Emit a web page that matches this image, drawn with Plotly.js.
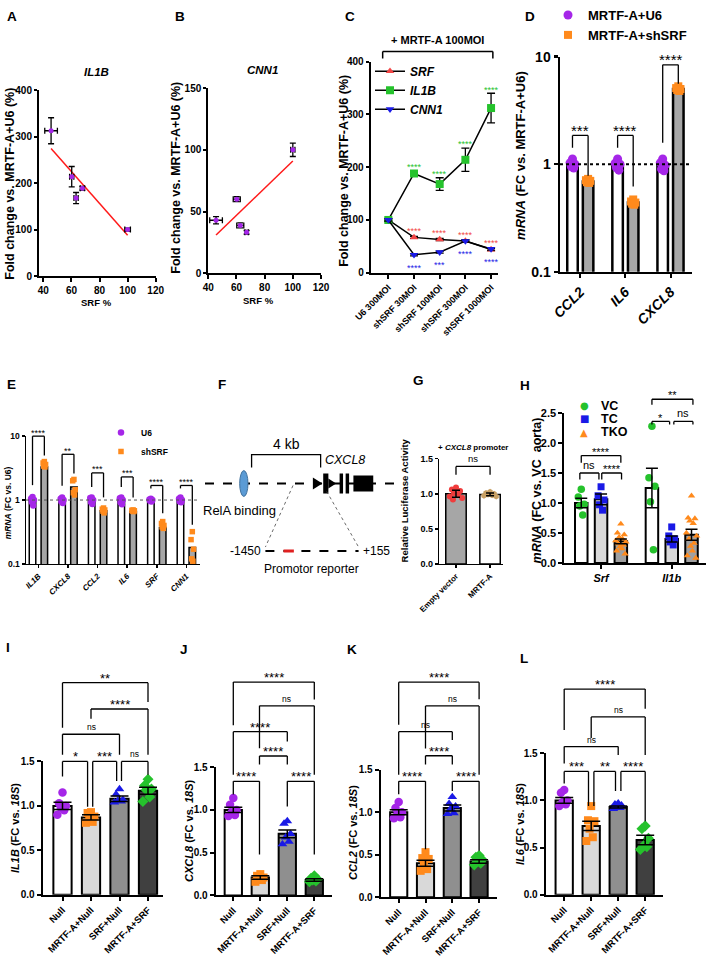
<!DOCTYPE html>
<html>
<head>
<meta charset="utf-8">
<script src="https://cdn.plot.ly/plotly-3.0.1.min.js"></script>
<style>html,body{margin:0;padding:0;background:#fff}</style>
</head>
<body>
<div id="fig" style="width:708px;height:961px"></div>
<script>
const FONT = 'Liberation Sans, Arial, Helvetica, sans-serif';
const W = 708, H = 961;
const PURPLE = '#a526e8', ORANGE = '#ff8a1c', BLUE = '#1a1ae6', GREEN = '#25c22c', RED = '#f24646';

// ---- A: IL1B vs SRF %
const aSrf = [45.5, 60.2, 63.3, 67.8, 100];
const aSrfErr = [4.5, 1.5, 1.5, 1.5, 2];
const aIl1b = [313, 214, 168, 189, 100];
const aIl1bErr = [28, 22, 12, 4, 3];
const aFitX = [45.5, 100];
const aFitY = [275, 88];

// ---- B: CNN1 vs SRF %
const bSrf = [45.5, 60.2, 62.7, 67.2, 100];
const bSrfErr = [4.5, 2.5, 2.5, 1.2, 1.5];
const bCnn1 = [43, 60, 38.8, 33.2, 100];
const bCnn1Err = [3, 2, 2, 1.5, 5.4];
const bFitX = [45.5, 100];
const bFitY = [31, 91];

// ---- C: dose series
const cLabels = ['U6 300MOI', 'shSRF 30MOI', 'shSRF 100MOI', 'shSRF 300MOI', 'shSRF 1000MOI'];
const cSrf = [100, 67, 63, 60, 44];
const cSrfErr = [2, 2, 2, 2, 2];
const cIl1b = [100, 188, 168, 214, 312];
const cIl1bErr = [3, 5, 12, 22, 28];
const cCnn1 = [100, 34, 39, 60, 45];
const cCnn1Err = [2, 2, 2, 2, 2];
const cSigSrf = ['', '****', '****', '****', '****'];
const cSigIl1b = ['', '****', '****', '****', '****'];
const cSigCnn1 = ['', '****', '***', '****', '****'];

// ---- D
const dGenes = ['CCL2', 'IL6', 'CXCL8'];
const dU6 = [0.98, 0.98, 0.97];
const dSh = [0.69, 0.44, 5.0];
const dU6Pts = [[1.12, 1.03, 1.0, 0.95, 0.92], [1.12, 1.02, 1.0, 0.93, 0.88], [1.12, 1.03, 0.98, 0.9, 0.87]];
const dShPts = [[0.73, 0.71, 0.7, 0.68, 0.67], [0.47, 0.45, 0.44, 0.43, 0.42], [5.3, 5.1, 5.0, 4.9, 4.8]];
const dSig = ['***', '****', '****'];

// ---- E
const eGenes = ['IL1B', 'CXCL8', 'CCL2', 'IL6', 'SRF', 'CNN1'];
const eU6 = [1.0, 1.0, 1.0, 1.0, 1.0, 1.0];
const eSh = [3.3, 1.6, 0.68, 0.66, 0.37, 0.18];
const eU6Pts = [[1.12, 1.05, 1.0, 0.93, 0.82], [1.1, 1.05, 1.0, 0.95, 0.9], [1.1, 1.08, 1.0, 0.93, 0.87],
                [1.1, 1.07, 1.0, 0.92, 0.86], [1.05, 1.02, 1.0, 0.97, 0.95], [1.1, 1.05, 1.0, 0.95, 0.92]];
const eShPts = [[4.0, 3.8, 3.6, 3.4, 3.3], [2.1, 2.0, 1.45, 1.3, 1.2], [0.75, 0.72, 0.7, 0.67, 0.63],
                [0.7, 0.69, 0.68, 0.67, 0.66], [0.46, 0.43, 0.4, 0.38, 0.36], [0.32, 0.24, 0.17, 0.12, 0.11]];
const eSig = ['****', '**', '***', '***', '****', '****'];

// ---- F (schematic, kb from TSS)
const fRelA = -4.3;
const fSpan = [-3.85, 0.15];
const fExons = [[0.3, 0.6, 10], [1.25, 1.45, 10], [1.6, 1.8, 10], [2.05, 3.2, 8]];

// ---- G
const gGroups = ['Empty vector', 'MRTF-A'];
const gMean = [1.0, 0.99];
const gSem = [0.05, 0.02];
const gEmptyPts = [1.09, 1.06, 1.04, 1.01, 0.99, 0.96, 0.94, 0.92];
const gMrtfPts = [1.03, 1.01, 1.0, 0.99, 0.98, 0.97, 0.96];

// ---- H
const hGenes = ['Srf', 'Il1b'];
const hVC = [1.0, 1.25], hVCErr = [0.08, 0.33];
const hTC = [1.06, 0.4], hTCErr = [0.09, 0.05];
const hTKO = [0.36, 0.47], hTKOErr = [0.04, 0.09];
const hVCPts = [[1.23, 1.1, 0.98, 0.95, 0.8], [2.28, 1.42, 1.28, 1.02, 0.22]];
const hTCPts = [[1.27, 1.12, 1.05, 0.97, 0.88], [0.6, 0.45, 0.4, 0.35, 0.3]];
const hTKOPts = [[0.65, 0.5, 0.47, 0.43, 0.4, 0.37, 0.35, 0.32, 0.3, 0.27, 0.24, 0.2, 0.15],
                 [1.12, 0.75, 0.74, 0.7, 0.66, 0.5, 0.45, 0.4, 0.33, 0.28, 0.2, 0.12, 0.08]];

// ---- I-L
const grpIL = ['Null', 'MRTF-A+Null', 'SRF+Null', 'MRTF-A+SRF'];
const iMean = [1.0, 0.87, 1.08, 1.17], iSem = [0.04, 0.03, 0.03, 0.04];
const iPts = [[1.15, 1.03, 1.0, 0.98, 0.95, 0.9], [0.93, 0.92, 0.88, 0.86, 0.82, 0.81],
              [1.19, 1.13, 1.07, 1.06, 1.05, 1.04], [1.3, 1.23, 1.19, 1.18, 1.1, 1.05]];
const jMean = [1.0, 0.21, 0.72, 0.18], jSem = [0.03, 0.02, 0.045, 0.015];
const jPts = [[1.14, 1.06, 1.0, 0.97, 0.94, 0.93], [0.25, 0.23, 0.21, 0.2, 0.18, 0.16],
              [0.87, 0.84, 0.72, 0.68, 0.63, 0.6], [0.23, 0.2, 0.19, 0.18, 0.17, 0.16]];
const kMean = [1.0, 0.4, 1.05, 0.42], kSem = [0.03, 0.035, 0.035, 0.02];
const kPts = [[1.12, 1.05, 1.0, 0.97, 0.94, 0.93], [0.53, 0.46, 0.45, 0.38, 0.33, 0.31],
              [1.18, 1.1, 1.07, 1.04, 0.99, 0.98], [0.49, 0.47, 0.44, 0.42, 0.4, 0.38]];
const lMean = [1.0, 0.73, 0.93, 0.58], lSem = [0.03, 0.05, 0.01, 0.05];
const lPts = [[1.11, 1.08, 1.0, 0.98, 0.96, 0.94], [0.94, 0.79, 0.78, 0.7, 0.61, 0.57],
              [0.97, 0.96, 0.95, 0.94, 0.92, 0.91], [0.73, 0.7, 0.6, 0.52, 0.51, 0.48]];

// ---------------------------------------------------------------
const traces = [], shapes = [], notes = [];
const Y = {};
const F = (size, style) => ({family: FONT, size, color: '#000', weight: 700, style: style || 'normal'});
const AX = {
  showline: true, linecolor: '#000', linewidth: 2, ticks: 'outside', ticklen: 4, tickwidth: 2,
  tickcolor: '#000', showgrid: false, zeroline: false, fixedrange: true, tickfont: F(10)
};
const layout = {
  width: W, height: H, margin: {l: 0, r: 0, t: 0, b: 0}, paper_bgcolor: '#fff',
  plot_bgcolor: 'rgba(0,0,0,0)', barmode: 'overlay', showlegend: true,
  font: {family: FONT, color: '#000'}
};
const key = id => id[0] + 'axis' + id.slice(1);
function addX(id, y, l, r, range, extra) {
  layout[key(id)] = Object.assign({}, AX, {anchor: y, domain: [l / W, r / W], range}, extra);
}
function addY(id, x, t, b, range, extra) {
  layout[key(id)] = Object.assign({}, AX, {anchor: x, domain: [1 - b / H, 1 - t / H], range}, extra);
  Y[id] = {r: range, log: !!(extra && extra.type === 'log')};
}
function yd(ya, v) {
  const a = Y[ya], t = a.log ? Math.log10(v) : v;
  return (t - a.r[0]) / (a.r[1] - a.r[0]);
}
function seg(xref, yref, x0, y0, x1, y1, w, extra) {
  shapes.push(Object.assign({type: 'line', xref, yref, x0, y0, x1, y1, line: {color: '#000', width: w || 1.3}}, extra));
}
function bracket(xa, ya, b, size, nsSize) {
  const [x1, x2, top, yl, yr, label] = b;
  const yref = ya + ' domain', t = yd(ya, top);
  seg(xa, yref, x1, t, x2, t);
  seg(xa, yref, x1, t, x1, yd(ya, yl));
  seg(xa, yref, x2, t, x2, yd(ya, yr));
  const ns = label === 'ns';
  notes.push({xref: xa, yref, x: (x1 + x2) / 2, y: t, yanchor: 'bottom', showarrow: false,
    yshift: ns ? 0 : -0.38 * size, text: label,
    font: {family: FONT, size: ns ? nsSize : size, color: '#000'}});
}
function txt(x, y, text, size, extra) {
  notes.push(Object.assign({xref: 'paper', yref: 'paper', x: x / W, y: 1 - y / H, text, showarrow: false,
    xanchor: 'center', yanchor: 'middle', font: F(size)}, extra));
}
function bars(xa, ya, x, y, color, width, lw) {
  traces.push({type: 'bar', xaxis: xa, yaxis: ya, x, y, width, offset: -width / 2,
    marker: {color, line: {color: '#000', width: lw || 2}}, showlegend: false, hoverinfo: 'skip'});
}
function errs(xa, ya, x, y, e, cap) {
  traces.push({type: 'scatter', mode: 'markers', xaxis: xa, yaxis: ya, x, y, marker: {size: 1, opacity: 0},
    error_y: {type: 'data', array: e, color: '#000', thickness: 1.5, width: cap || 4},
    showlegend: false, hoverinfo: 'skip'});
}
const JIT = [0, -0.6, 0.6, -0.3, 0.3, -0.9, 0.9, -0.45, 0.45, -0.15, 0.15, -0.75, 0.75];
function dots(xa, ya, centers, groups, color, symbol, size, w, legend, name) {
  const x = [], y = [];
  groups.forEach((vals, g) => vals.forEach((v, i) => { x.push(centers[g] + w * JIT[i % JIT.length]); y.push(v); }));
  traces.push({type: 'scatter', mode: 'markers', xaxis: xa, yaxis: ya, x, y, cliponaxis: false,
    marker: {color, symbol, size, line: {width: 0}}, showlegend: !!legend, legend: legend || 'legend',
    name: name || '', hoverinfo: 'skip'});
}
const ytitle = (x, y, text, size) => txt(x, y, text, size, {textangle: -90});

// ---------------- A
addX('x', 'y', 39, 155.7, [36.9, 120], {tickvals: [40, 60, 80, 100, 120]});
addY('y', 'x', 84, 271, [0, 400], {tickvals: [0, 100, 200, 300, 400], ticklen: 3});
traces.push({type: 'scatter', mode: 'lines', xaxis: 'x', yaxis: 'y', x: aFitX, y: aFitY,
  line: {color: '#ff1a1a', width: 1.5}, showlegend: false, hoverinfo: 'skip'});
traces.push({type: 'scatter', mode: 'markers', xaxis: 'x', yaxis: 'y', x: aSrf, y: aIl1b,
  marker: {color: PURPLE, size: 5}, showlegend: false, hoverinfo: 'skip',
  error_x: {type: 'data', array: aSrfErr, color: '#000', thickness: 1.3, width: 3},
  error_y: {type: 'data', array: aIl1bErr, color: '#000', thickness: 1.3, width: 3}});
txt(97, 65, '<i>IL1B</i>', 11.5);
txt(97, 298, 'SRF %', 9.5);
ytitle(10, 178, 'Fold change vs. MRTF-A+U6 (%)', 12.5);

// ---------------- B
addX('x2', 'y2', 208.3, 321, [40, 120], {tickvals: [40, 60, 80, 100, 120]});
addY('y2', 'x2', 81.7, 268.3, [0, 150], {tickvals: [0, 50, 100, 150], ticklen: 3});
traces.push({type: 'scatter', mode: 'lines', xaxis: 'x2', yaxis: 'y2', x: bFitX, y: bFitY,
  line: {color: '#ff1a1a', width: 1.5}, showlegend: false, hoverinfo: 'skip'});
traces.push({type: 'scatter', mode: 'markers', xaxis: 'x2', yaxis: 'y2', x: bSrf, y: bCnn1,
  marker: {color: PURPLE, size: 5}, showlegend: false, hoverinfo: 'skip',
  error_x: {type: 'data', array: bSrfErr, color: '#000', thickness: 1.3, width: 3},
  error_y: {type: 'data', array: bCnn1Err, color: '#000', thickness: 1.3, width: 3}});
txt(262, 63, '<i>CNN1</i>', 11.5);
txt(258, 296, 'SRF %', 9.5);
ytitle(176, 172, 'Fold change vs. MRTF-A+U6 (%)', 12.5);

// ---------------- C
const cx = cLabels.map((_, i) => i);
addX('x3', 'y3', 370.7, 498, [-0.686, 4.27], {tickvals: cx, ticktext: cLabels, tickangle: -45, tickfont: F(9)});
addY('y3', 'x3', 55, 267.7, [0, 400], {tickvals: [0, 100, 200, 300, 400], ticklen: 3});
[[cSrf, cSrfErr, RED, 'triangle-up', '<i>SRF</i>', 7.5],
 [cIl1b, cIl1bErr, GREEN, 'square', '<i>IL1B</i>', 8],
 [cCnn1, cCnn1Err, BLUE, 'triangle-down', '<i>CNN1</i>', 7.5]].forEach(([y, e, col, sym, name, sz]) => {
  traces.push({type: 'scatter', mode: 'lines+markers', xaxis: 'x3', yaxis: 'y3', x: cx, y, name,
    line: {color: '#000', width: 1.5}, marker: {color: col, symbol: sym, size: sz},
    error_y: {type: 'data', array: e, color: '#000', thickness: 1.3, width: 4},
    legend: 'legend', showlegend: true, hoverinfo: 'skip', cliponaxis: false});
});
cx.forEach(i => {
  const t = {xref: 'x3', yref: 'y3', x: i, showarrow: false, font: {family: FONT, size: 9, color: RED}};
  if (cSigSrf[i]) notes.push(Object.assign({}, t, {y: cSrf[i] + 12, text: cSigSrf[i]}));
  if (cSigIl1b[i]) notes.push(Object.assign({}, t, {y: cIl1b[i] + cIl1bErr[i] + 7, text: cSigIl1b[i], font: {family: FONT, size: 9, color: GREEN}}));
  if (cSigCnn1[i]) notes.push(Object.assign({}, t, {y: cCnn1[i] - 25, text: cSigCnn1[i], font: {family: FONT, size: 9, color: BLUE}}));
});
seg('x3', 'y3 domain', -0.22, yd('y3', 419), 4.07, yd('y3', 419), 1.5);
seg('x3', 'y3 domain', -0.22, yd('y3', 419), -0.22, yd('y3', 406), 1.5);
seg('x3', 'y3 domain', 4.07, yd('y3', 419), 4.07, yd('y3', 406), 1.5);
notes.push({xref: 'x3', yref: 'y3 domain', x: 1.92, y: yd('y3', 426), yanchor: 'bottom', text: '+ MRTF-A 100MOI',
  showarrow: false, font: F(11)});
ytitle(344, 165, 'Fold change vs. MRTF-A+U6 (%)', 12.5);
layout.legend = {x: 370 / W, y: 1 - 50 / H, xanchor: 'left', yanchor: 'top', bgcolor: 'rgba(0,0,0,0)',
  font: F(12), itemwidth: 30, tracegroupgap: 0};

// ---------------- D
const dx = dGenes.map((_, i) => i);
const dOff = 0.173, dW = 0.233;
addX('x4', 'y4', 560, 691.7, [-0.45, 2.47], {tickvals: dx, ticktext: dGenes, tickangle: -45, tickfont: F(14, 'italic'), linewidth: 2.5});
addY('y4', 'x4', 50, 266.7, [-1, 1], {type: 'log', tickvals: [0.1, 1, 10], ticktext: ['0.1', '1', '10'], tickfont: F(14), linewidth: 2.5, tickwidth: 2.5});
bars('x4', 'y4', dx.map(i => i - dOff), dU6, '#fff', dW, 2.5);
bars('x4', 'y4', dx.map(i => i + dOff), dSh, '#a6a6a6', dW, 2.5);
dots('x4', 'y4', dx.map(i => i - dOff), dU6Pts, PURPLE, 'circle', 9, 0.09, 'legend2', 'MRTF-A+U6');
dots('x4', 'y4', dx.map(i => i + dOff), dShPts, ORANGE, 'square', 8, 0.08, 'legend2', 'MRTF-A+shSRF');
seg('x4', 'y4 domain', -0.45, yd('y4', 1), 2.47, yd('y4', 1), 2, {line: {color: '#000', width: 2, dash: 'dot'}});
[[1.85, 1.42, 0.78], [1.85, 1.42, 0.62], [8.4, 1.58, 5.6]].forEach((b, i) =>
  bracket('x4', 'y4', [i - dOff, i + dOff, b[0], b[1], b[2], dSig[i]], 15, 12));
layout.legend2 = {x: 548 / W, y: 1 + 7 / H, xanchor: 'left', yanchor: 'top', bgcolor: 'rgba(0,0,0,0)', font: F(13)};
ytitle(521, 150, '<i>mRNA</i> (FC vs. MRTF-A+U6)', 13);

// ---------------- E
const ex = eGenes.map((_, i) => i);
const eOff = 0.2, eW = 0.22;
addX('x5', 'y5', 26, 200, [-0.42, 5.46], {tickvals: ex, ticktext: eGenes, tickangle: -45, tickfont: F(8, 'italic'), linewidth: 1.5, tickwidth: 1.5, ticklen: 3});
addY('y5', 'x5', 432.3, 561, [-1, 1], {type: 'log', tickvals: [0.1, 1, 10], ticktext: ['0.1', '1', '10'], tickfont: F(8.5), linewidth: 1.5, tickwidth: 1.5, ticklen: 3});
bars('x5', 'y5', ex.map(i => i - eOff), eU6, '#fff', eW, 1.5);
bars('x5', 'y5', ex.map(i => i + eOff), eSh, '#a6a6a6', eW, 1.5);
dots('x5', 'y5', ex.map(i => i - eOff), eU6Pts, PURPLE, 'circle', 6.5, 0.08, 'legend3', 'U6');
dots('x5', 'y5', ex.map(i => i + eOff), eShPts, ORANGE, 'square', 5.5, 0.07, 'legend3', 'shSRF');
seg('x5', 'y5 domain', -0.42, yd('y5', 1), 5.46, yd('y5', 1), 1, {line: {color: '#555', width: 1, dash: 'dot'}});
[[10, 1.71, 5.0], [5.2, 1.68, 2.6], [2.66, 1.6, 1.1], [2.3, 1.6, 1.1], [1.69, 1.52, 0.62], [1.69, 1.52, 0.41]].forEach((b, i) =>
  bracket('x5', 'y5', [i - eOff, i + eOff, b[0], b[1], b[2], eSig[i]], 9, 8));
layout.legend3 = {x: 101 / W, y: 1 - 414 / H, xanchor: 'left', yanchor: 'top', bgcolor: 'rgba(0,0,0,0)', font: F(8.5)};
ytitle(8, 500, '<i>mRNA</i> (FC vs. U6)', 8.5);

// ---------------- F
addX('x6', 'y6', 205, 400, [-6.55, 4.75], {visible: false});
addY('y6', 'x6', 430, 575, [-95, 50], {visible: false});
const fsh = o => shapes.push(Object.assign({xref: 'x6', yref: 'y6'}, o));
fsh({type: 'line', x0: -6.55, x1: 4.75, y0: 0, y1: 0, line: {color: '#000', width: 2, dash: 'dash'}});
fsh({type: 'circle', x0: fRelA - 0.24, x1: fRelA + 0.24, y0: -13, y1: 13, fillcolor: '#5b9bd5', line: {color: '#41719c', width: 1}});
fsh({type: 'path', path: `M ${fSpan[0]},16 L ${fSpan[0]},29 L ${fSpan[1]},29 L ${fSpan[1]},16`, line: {color: '#000', width: 1.3}});
fsh({type: 'path', path: 'M -0.3,-6 L 0.25,0 L -0.3,6 Z', fillcolor: '#000', line: {width: 0}});
fsh({type: 'path', path: 'M 0.6,-5 L 1.05,0 L 0.6,5 Z', fillcolor: '#000', line: {width: 0}});
fExons.forEach(([a, b, h]) => fsh({type: 'rect', x0: a, x1: b, y0: -h, y1: h, fillcolor: '#000', line: {width: 0}}));
fsh({type: 'line', x0: -1.45, y0: -2, x1: -3.05, y1: -64, line: {color: '#444', width: 0.8, dash: 'dot'}});
fsh({type: 'line', x0: 0.5, y0: -8, x1: 2.35, y1: -64, line: {color: '#444', width: 0.8, dash: 'dot'}});
fsh({type: 'line', x0: -3.05, x1: 2.35, y0: -68, y1: -68, line: {color: '#000', width: 2, dash: 'dash'}});
fsh({type: 'line', x0: -2.0, x1: -1.4, y0: -68, y1: -68, line: {color: '#e02020', width: 3}});
const fn = (x, y, text, size, extra) => notes.push(Object.assign({xref: 'x6', yref: 'y6', x, y, text, showarrow: false,
  font: {family: FONT, size, color: '#000'}}, extra));
fn(-1.85, 40, '4 kb', 14);
fn(1.55, 24, '<i>CXCL8</i>', 12.5);
fn(-4.58, -27, 'RelA binding', 13);
fn(-3.2, -68, '-1450', 12, {xanchor: 'right'});
fn(2.5, -68, '+155', 12, {xanchor: 'left'});
fn(-0.35, -86, 'Promotor reporter', 12);

// ---------------- G
addX('x7', 'y7', 439.3, 503, [-0.49, 1.38], {tickvals: [0, 1], ticktext: gGroups, tickangle: -45, tickfont: F(8), linewidth: 1.5, tickwidth: 1.5, ticklen: 3});
addY('y7', 'x7', 455, 561, [0, 1.5], {tickvals: [0, 0.5, 1, 1.5], tickformat: '.1f', tickfont: F(9), linewidth: 1.5, tickwidth: 1.5, ticklen: 3});
bars('x7', 'y7', [0, 1], gMean, ['#a6a6a6', '#fff'], 0.6, 1.5);
dots('x7', 'y7', [0], [gEmptyPts], '#f03c3c', 'circle', 6, 0.2);
dots('x7', 'y7', [1], [gMrtfPts], '#c8a064', 'hexagon', 6, 0.2);
errs('x7', 'y7', [0, 1], gMean, gSem, 4);
bracket('x7', 'y7', [0, 1, 1.39, 1.27, 1.27, 'ns'], 9, 9.5);
txt(473, 444, '+ <i>CXCL8</i> promoter', 8);
ytitle(404, 497, 'Relative Luciferase Activity', 9.5);

// ---------------- H
const hx = [0, 1], hOff = 0.28, hW = 0.177;
addX('x8', 'y8', 564.3, 706, [-0.52, 1.485], {tickvals: hx, ticktext: hGenes, tickfont: F(11, 'italic')});
addY('y8', 'x8', 409, 560, [0, 2.5], {tickvals: [0, 0.5, 1, 1.5, 2, 2.5], tickformat: '.1f', tickfont: F(11)});
bars('x8', 'y8', hx.map(i => i - hOff), hVC, '#fff', hW);
bars('x8', 'y8', hx, hTC, '#d9d9d9', hW);
bars('x8', 'y8', hx.map(i => i + hOff), hTKO, '#a0a0a0', hW);
dots('x8', 'y8', hx.map(i => i - hOff), hVCPts, GREEN, 'circle', 7.5, 0.07);
dots('x8', 'y8', hx, hTCPts, BLUE, 'square', 7, 0.07);
dots('x8', 'y8', hx.map(i => i + hOff), hTKOPts, ORANGE, 'triangle-up', 6.5, 0.08);
errs('x8', 'y8', hx.map(i => i - hOff), hVC, hVCErr, 6);
errs('x8', 'y8', hx, hTC, hTCErr, 6);
errs('x8', 'y8', hx.map(i => i + hOff), hTKO, hTKOErr, 6);
[[-0.28, 0.28, 1.79, 1.67, 1.67, '****'], [-0.3, -0.03, 1.5, 1.39, 1.39, 'ns'], [0.01, 0.29, 1.5, 1.39, 1.39, '****'],
 [0.72, 1.3, 2.73, 2.64, 2.64, '**'], [0.72, 0.97, 2.36, 2.31, 2.31, '*'], [1.03, 1.3, 2.36, 2.31, 2.31, 'ns']]
  .forEach(b => bracket('x8', 'y8', b, 11, 11));
// compact legend for H, drawn as text keys
[['\u25CF', GREEN, 'VC', 401.5], ['\u25A0', BLUE, 'TC', 415], ['\u25B2', ORANGE, 'TKO', 428.5]].forEach(([sym, col, lab, y]) => {
  txt(584, y, sym, 10, {font: {family: 'DejaVu Sans', size: 10, color: col}});
  txt(599, y, lab, 12.5, {xanchor: 'left'});
});
ytitle(537, 487, '<i>mRNA</i> (FC vs. VC\u00a0\u00a0aorta)', 12.5);

// ---------------- I-L
const ilFill = ['#fff', '#d9d9d9', '#8f8f8f', '#404040'];
const ilDot = [[PURPLE, 'circle', 8.5], [ORANGE, 'square', 8], [BLUE, 'triangle-up', 8.5], [GREEN, 'diamond', 8.5]];
function ijkl(xa, ya, g, mean, sem, pts, brs, title, tpos) {
  const c = [0, 1, 2, 3];
  addX(xa, ya, g.l, g.r, [(g.l - g.c0) / g.s, (g.r - g.c0) / g.s], {tickvals: c, ticktext: grpIL, tickangle: -45, tickfont: F(9.5)});
  addY(ya, xa, g.t, g.b, [0, 1.5], {tickvals: [0, 0.5, 1, 1.5], tickformat: '.1f', tickfont: F(10)});
  bars(xa, ya, c, mean, ilFill, 0.64);
  c.forEach(i => dots(xa, ya, [i], [pts[i]], ilDot[i][0], ilDot[i][1], ilDot[i][2], 0.2));
  errs(xa, ya, c, mean, sem, 9);
  brs.forEach(b => bracket(xa, ya, b, 13, 8.5));
  ytitle(tpos[0], tpos[1], title, 11);
}
ijkl('x9', 'y9', {l: 42.7, r: 163.3, t: 760, b: 894.3, c0: 62.5, s: 28.5}, iMean, iSem, iPts,
  [[0, 0.88, 1.5, 1.33, 0.99, '*'], [1.06, 1.9, 1.5, 0.99, 1.28, '***'], [2.07, 3, 1.5, 1.28, 1.35, 'ns'],
   [0, 2, 1.806, 1.575, 1.575, 'ns'], [1, 3, 2.09, 1.98, 1.575, '****'], [0, 3, 2.387, 1.88, 2.17, '**']],
  '<i>IL1B</i> (FC vs. <i>18S</i>)', [15, 827]);
ijkl('x10', 'y10', {l: 215.7, r: 331.7, t: 765.7, b: 895, c0: 233.3, s: 27}, jMean, jSem, jPts,
  [[0, 0.97, 1.334, 1.18, 0.48, '****'], [2, 3, 1.334, 1.04, 0.48, '****'], [0.97, 2, 1.63, 1.53, 1.53, '****'],
   [0, 2, 1.914, 1.41, 1.8, '****'], [0.97, 3, 2.216, 1.72, 1.41, 'ns'], [0, 3, 2.494, 1.99, 2.29, '****']],
  '<i>CXCL8</i> (FC vs. <i>18S</i>)', [189, 830]);
ijkl('x11', 'y11', {l: 380.7, r: 496.7, t: 768.3, b: 896.7, c0: 398.7, s: 26.8}, kMean, kSem, kPts,
  [[0, 1, 1.363, 1.21, 0.565, '****'], [2, 3, 1.363, 1.25, 0.545, '****'], [1, 2, 1.664, 1.56, 1.56, '****'],
   [0, 2, 1.947, 1.44, 1.85, 'ns'], [1, 3, 2.25, 1.75, 1.44, 'ns'], [0, 3, 2.53, 2.03, 2.33, '****']],
  '<i>CCL2</i> (FC vs. <i>18S</i>)', [353, 832]);
ijkl('x12', 'y12', {l: 545.7, r: 663.3, t: 751.7, b: 894.3, c0: 564.2, s: 27}, lMean, lSem, lPts,
  [[0, 0.9, 1.307, 1.18, 0.94, '***'], [1.1, 1.9, 1.307, 0.94, 1.1, '**'], [2.1, 3, 1.307, 1.1, 0.78, '****'],
   [0, 2, 1.57, 1.39, 1.48, 'ns'], [1, 3, 1.885, 1.66, 1.48, 'ns'], [0, 3, 2.18, 1.745, 1.97, '****']],
  '<i>IL6</i> (FC vs. <i>18S</i>)', [520, 823]);

// ---------------- panel letters
[['A', 5, 10], ['B', 173, 10], ['C', 343, 10], ['D', 523, 10], ['E', 5, 380], ['F', 216, 380],
 ['G', 411, 376], ['H', 518, 381], ['I', 4, 645], ['J', 178, 647], ['K', 345, 647], ['L', 518, 656]]
  .forEach(([t, x, y]) => txt(x, y, t, 13.5, {xanchor: 'left'}));

layout.shapes = shapes;
layout.annotations = notes;
Plotly.newPlot('fig', traces, layout, {staticPlot: true, displayModeBar: false});
</script>
</body>
</html>
